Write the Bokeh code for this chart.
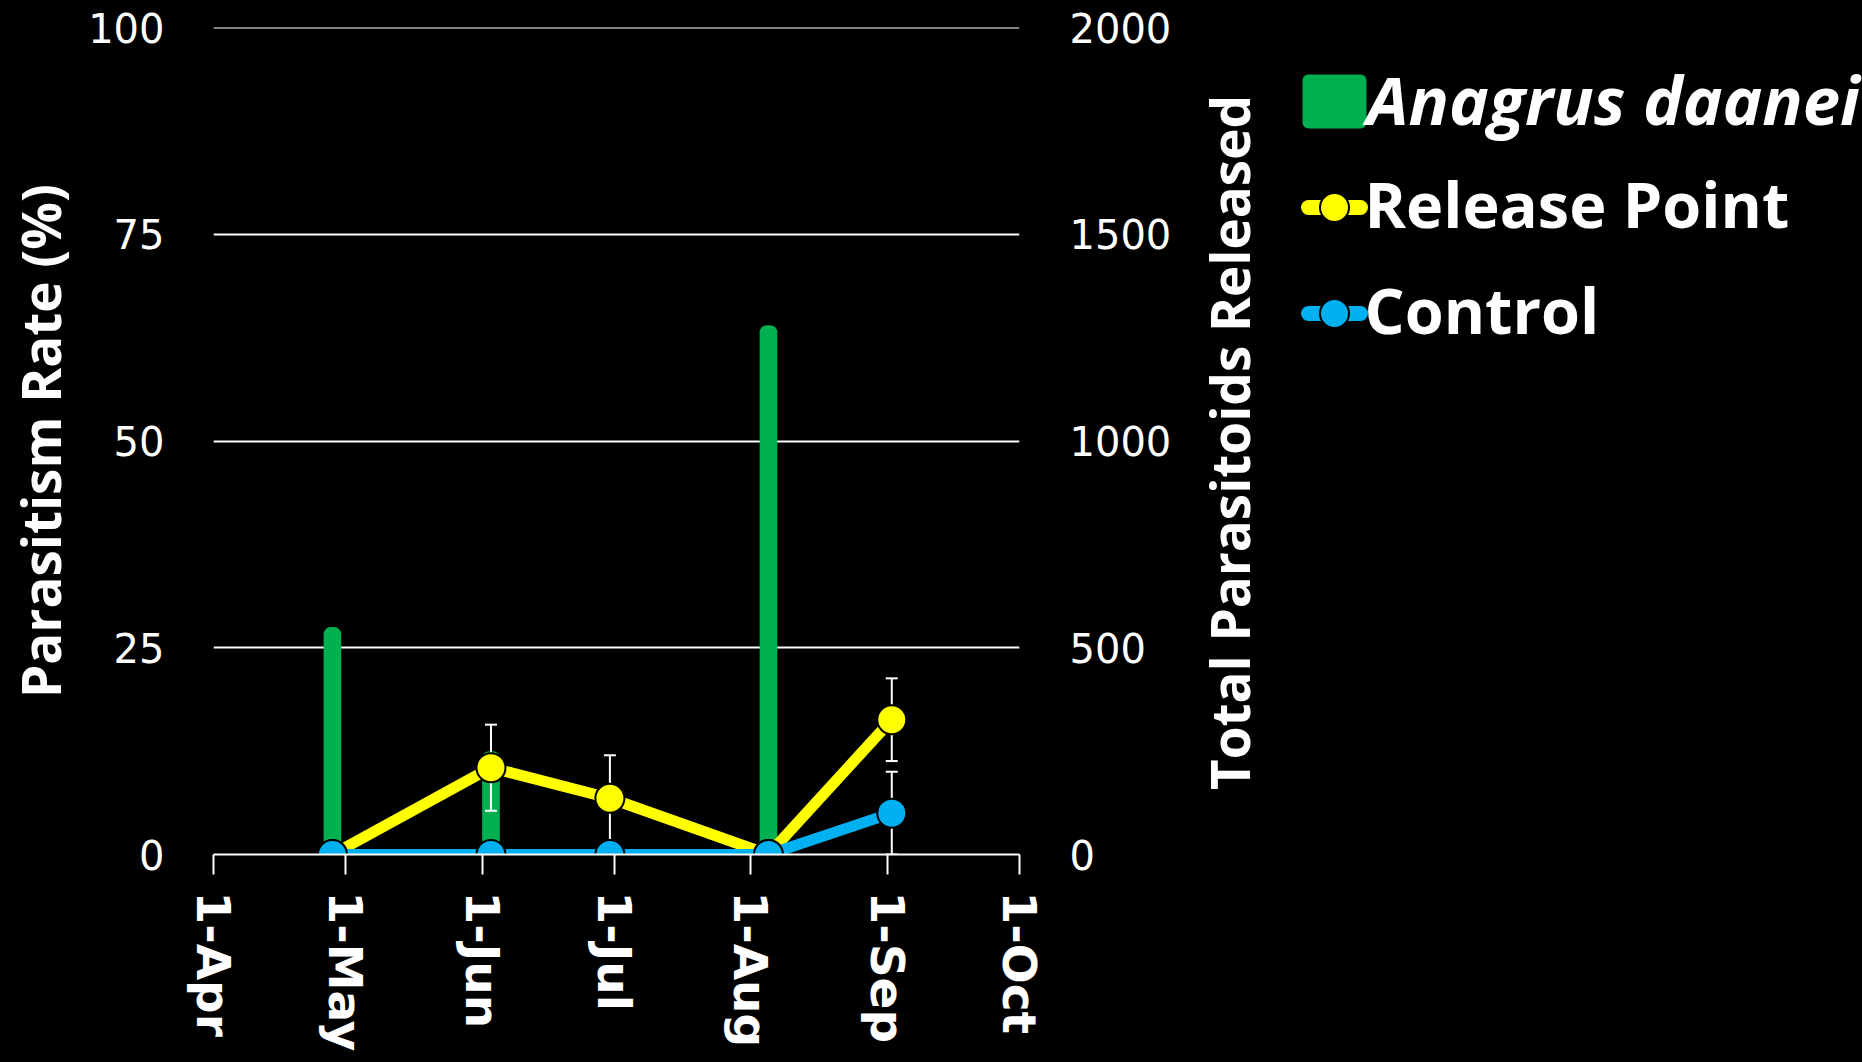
import math
import pandas as pd
from bokeh.plotting import figure
from bokeh.models import Range1d, LinearAxis, FixedTicker, ColumnDataSource, Span
from bokeh.layouts import row
from bokeh.core.properties import value
from bokeh.embed import file_html
from bokeh.resources import INLINE

# ---------------- data ----------------
season_start = "2019-04-01"
season_end = "2019-10-01"

sample_dates = ["2019-04-28", "2019-06-03", "2019-06-30", "2019-08-05", "2019-09-02"]
release_point_rate = [0.0, 10.5, 6.8, 0.0, 16.3]
release_point_err = [0.0, 5.2, 5.2, 0.0, 5.0]
control_rate = [0.0, 0.0, 0.0, 0.0, 5.0]
control_err = [0.0, 0.0, 0.0, 0.0, 5.0]

release_dates = ["2019-04-28", "2019-06-03", "2019-08-05"]
parasitoids_released = [550, 250, 1280]

rate_ticks = [0, 25, 50, 75, 100]
released_ticks = [0, 500, 1000, 1500, 2000]

rate_title = "Parasitism Rate (%)"
released_title = "Total Parasitoids Released"
series_names = ["Anagrus daanei", "Release Point", "Control"]
series_colors = ["#00B050", "#FFFF00", "#00B0F0"]

# ---------------- helpers ----------------
base = pd.Timestamp(season_start)


def day_offset(dates):
    return [(pd.Timestamp(d) - base).days for d in dates]


month_starts = pd.date_range(season_start, season_end, freq="MS")
month_ticks = [(d - base).days for d in month_starts]
month_labels = [f"{d.day}-{d:%b}" for d in month_starts]

sample_x = day_offset(sample_dates)
release_x = day_offset(release_dates)

TITLE_FONT = "Open Sans"
TICK_FONT = "DejaVu Sans"
BLACK_HOST = {"background-color": "black"}

PAGE_H = 1062
FRAME_TOP, FRAME_H = 27, 827
FRAME_LEFT, FRAME_W = 213, 806
MAIN_W = 1190
PANEL_W = 1862 - MAIN_W

# ---------------- main chart ----------------
p = figure(
    frame_width=FRAME_W, frame_height=FRAME_H,
    min_border_left=FRAME_LEFT, min_border_right=MAIN_W - FRAME_LEFT - FRAME_W,
    min_border_top=FRAME_TOP, min_border_bottom=PAGE_H - FRAME_TOP - FRAME_H,
    x_range=Range1d(month_ticks[0], month_ticks[-1]),
    y_range=Range1d(rate_ticks[0], rate_ticks[-1]),
    output_backend="svg", toolbar_location=None,
    background_fill_color="black", border_fill_color="black",
    outline_line_color=None, styles=BLACK_HOST,
)
p.extra_y_ranges = {"released": Range1d(released_ticks[0], released_ticks[-1])}

p.xgrid.visible = False
p.ygrid.ticker = FixedTicker(ticks=rate_ticks)
p.ygrid.grid_line_color = "white"
p.ygrid.grid_line_width = 2
# the top gridline sits on the frame edge, draw it explicitly
p.add_layout(Span(location=rate_ticks[-1], dimension="width",
                  line_color="white", line_width=2))

# left axis: parasitism rate
ly = p.yaxis[0]
ly.ticker = FixedTicker(ticks=rate_ticks)
ly.axis_line_color = None
ly.major_tick_line_color = None
ly.minor_tick_line_color = None
ly.major_tick_out = 0
ly.major_tick_in = 0
ly.major_label_standoff = 49
ly.major_label_text_color = "white"
ly.major_label_text_font = TICK_FONT
ly.major_label_text_font_size = "40px"
ly.axis_label = rate_title
ly.axis_label_text_color = "white"
ly.axis_label_text_font = TITLE_FONT
ly.axis_label_text_font_style = "bold"
ly.axis_label_text_font_size = "53px"
ly.axis_label_standoff = 8

# right axis: parasitoids released (its title is drawn in the side panel)
ry = LinearAxis(y_range_name="released", ticker=FixedTicker(ticks=released_ticks))
ry.axis_line_color = None
ry.major_tick_line_color = None
ry.minor_tick_line_color = None
ry.major_tick_out = 0
ry.major_tick_in = 0
ry.major_label_standoff = 50
ry.major_label_text_color = "white"
ry.major_label_text_font = TICK_FONT
ry.major_label_text_font_size = "40px"
p.add_layout(ry, "right")

# bottom axis: dates
bx = p.xaxis[0]
bx.ticker = FixedTicker(ticks=month_ticks)
bx.major_label_overrides = {t: lab for t, lab in zip(month_ticks, month_labels)}
bx.axis_line_color = "white"
bx.axis_line_width = 2
bx.major_tick_line_color = "white"
bx.major_tick_line_width = 2
bx.major_tick_out = 20
bx.major_tick_in = 0
bx.minor_tick_line_color = None
bx.major_label_orientation = "vertical"
bx.major_label_standoff = 17
bx.major_label_text_color = "white"
bx.major_label_text_font = TICK_FONT
bx.major_label_text_font_style = "bold"
bx.major_label_text_font_size = "47px"

# release bars (right axis)
p.vbar(
    x=release_x, top=parasitoids_released, width=4, bottom=0,
    y_range_name="released", fill_color=series_colors[0], line_color=None,
    border_radius=(7, 7, 0, 0),
)


def error_bars(xs, ys, errs):
    keep = [i for i, e in enumerate(errs) if e > 0]
    src = ColumnDataSource(dict(
        x=[xs[i] for i in keep],
        lo=[ys[i] - errs[i] for i in keep],
        hi=[ys[i] + errs[i] for i in keep],
    ))
    p.segment(x0="x", y0="lo", x1="x", y1="hi", source=src,
              line_color="white", line_width=2)
    for end in ("lo", "hi"):
        p.scatter(x="x", y=end, source=src, marker="dash", size=12,
                  line_color="white", line_width=2)


def series(ys, errs, color):
    error_bars(sample_x, ys, errs)
    p.line(sample_x, ys, line_color=color, line_width=11, line_join="round")
    p.scatter(sample_x, ys, size=29, fill_color=color,
              line_color="black", line_width=2)


series(release_point_rate, release_point_err, series_colors[1])
series(control_rate, control_err, series_colors[2])

# ---------------- side panel: right-axis title and legend ----------------
# panel coordinates are page pixels; y is measured upward from the page bottom
side = figure(
    frame_width=PANEL_W, frame_height=FRAME_H,
    min_border_left=0, min_border_right=0,
    min_border_top=FRAME_TOP, min_border_bottom=PAGE_H - FRAME_TOP - FRAME_H,
    x_range=Range1d(MAIN_W, 1862),
    y_range=Range1d(PAGE_H - FRAME_TOP - FRAME_H, PAGE_H - FRAME_TOP),
    output_backend="svg", toolbar_location=None,
    background_fill_color="black", border_fill_color="black",
    outline_line_color=None, styles=BLACK_HOST,
)
side.axis.visible = False
side.grid.visible = False


def up(page_y):
    return PAGE_H - page_y


side.text(x=[1229], y=[up(442)], text=[released_title], angle=math.pi / 2,
          text_font=value(TITLE_FONT), text_font_style="bold",
          text_font_size="53px", text_color="white",
          text_baseline="middle", text_align="center")

sym_x = 1334
row_y = [101, 207, 313]
label_y = [98, 203, 309]

side.rect(x=sym_x, y=up(row_y[0]), width=64, height=54,
          fill_color=series_colors[0], line_color=None, border_radius=6)
for yy, col in zip(row_y[1:], series_colors[1:]):
    side.line([sym_x - 26, sym_x + 26], [up(yy), up(yy)], line_color=col,
              line_width=15, line_cap="round")
    side.scatter([sym_x], [up(yy)], size=29, fill_color=col,
                 line_color="black", line_width=2)

side.text(x=[1366], y=[up(label_y[0])], text=[series_names[0]],
          text_font=value(TITLE_FONT), text_font_style="bold italic",
          text_font_size="67px", text_color="white",
          text_baseline="alphabetic", text_align="left")
side.text(x=[1364, 1364], y=[up(b) for b in label_y[1:]], text=series_names[1:],
          text_font=value(TITLE_FONT), text_font_style="bold",
          text_font_size="63px", text_color="white",
          text_baseline="alphabetic", text_align="left")

layout = row(p, side, spacing=0, styles=BLACK_HOST)

with open("out.html", "w") as f:
    f.write(file_html(layout, INLINE))
